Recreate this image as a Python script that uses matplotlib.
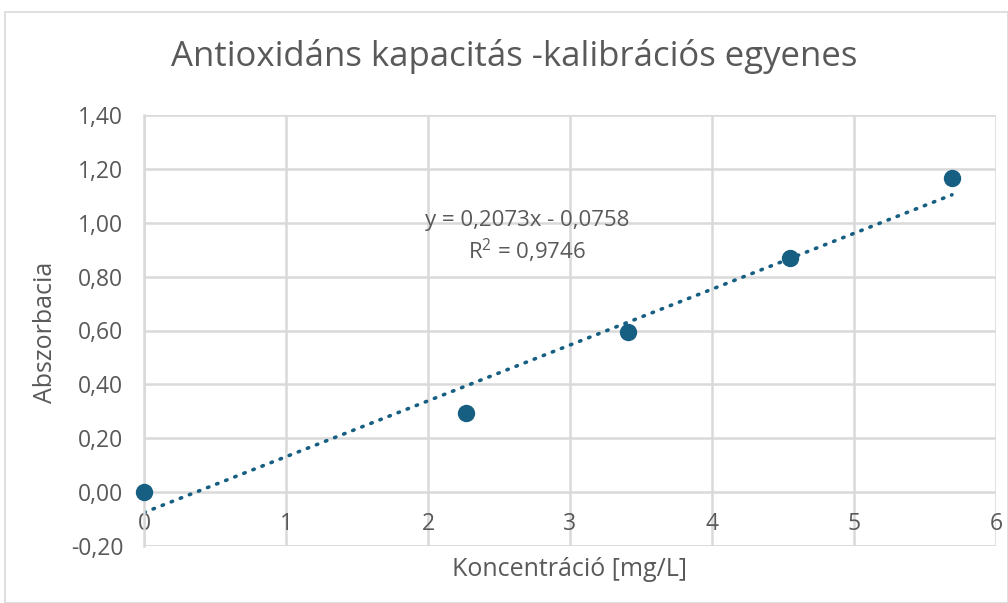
import matplotlib
matplotlib.use("Agg")
import matplotlib.pyplot as plt
import numpy as np
from matplotlib.patches import Rectangle

# Data
conc = [0.0, 2.27, 3.41, 4.55, 5.69]
absorb = [0.00, 0.294, 0.594, 0.869, 1.166]
slope = 0.2073
intercept = -0.0758
eq_text = "y = 0,2073x - 0,0758"
r2_text = "R$^2$ = 0,9746"
title = "Antioxidáns kapacitás -kalibrációs egyenes"
xlabel = "Koncentráció [mg/L]"
ylabel = "Abszorbacia"
xticks = [0, 1, 2, 3, 4, 5, 6]
yticks = [-0.2, 0.0, 0.2, 0.4, 0.6, 0.8, 1.0, 1.2, 1.4]

plt.rcParams['font.family'] = ['Open Sans', 'DejaVu Sans']
plt.rcParams['mathtext.fontset'] = 'custom'
plt.rcParams['mathtext.rm'] = 'Open Sans'
txt = '#595959'
col = '#175f82'
grid = '#d9d9d9'

fig = plt.figure(figsize=(10.08, 6.03), dpi=100)
fig.patches.append(Rectangle((5/1008, 0), 1 - 5/1008, 1 - 12/603, transform=fig.transFigure,
                             fill=False, edgecolor='#d9d9d9', linewidth=1.2))
ax = fig.add_axes([144/1008, 57/603, (996-144)/1008, (546-115)/603])
ax.set_xlim(0, 6)
ax.set_ylim(-0.2, 1.4)
ax.set_xticks(xticks)
ax.set_yticks(yticks)
ax.set_xticklabels([str(t) for t in xticks])
ax.set_yticklabels([f"{v:.2f}".replace('.', ',') for v in yticks])
ax.grid(True, color=grid, linewidth=1.8)
ax.set_axisbelow(True)
for s in ['top', 'right']:
    ax.spines[s].set_visible(False)
ax.spines['left'].set_color(grid)
ax.spines['left'].set_linewidth(1.8)
ax.spines['bottom'].set_position(('data', 0))
ax.spines['bottom'].set_visible(False)
ax.tick_params(length=0, labelsize=16.5, labelcolor=txt)
ax.tick_params(axis='y', pad=15)
ax.tick_params(axis='x', pad=14)
ax.axhline(-0.2, color=grid, linewidth=1.8, zorder=0.5)

xs = np.array([0, max(conc)])
ax.plot(xs, slope * xs + intercept, color=col, linewidth=2.6,
        linestyle=(0, (0.4, 2.3)), dash_capstyle='round', zorder=2)
ax.plot(conc, absorb, 'o', color=col, markersize=11.5, zorder=3, clip_on=False)

ax.text(2.70, 1.01, eq_text, ha='center', va='center', fontsize=16, color=txt)
ax.text(2.70, 0.895, r2_text, ha='center', va='center', fontsize=16, color=txt)

fig.text(514/1008, 1 - 57/603, title, ha='center', va='center', fontsize=25, color=txt)
fig.text(570/1008, 1 - 570/603, xlabel, ha='center', va='center', fontsize=18, color=txt)
fig.text(45/1008, 1 - 332/603, ylabel, ha='center', va='center', fontsize=18, color=txt, rotation=90)

fig.savefig("out.png", dpi=100)
